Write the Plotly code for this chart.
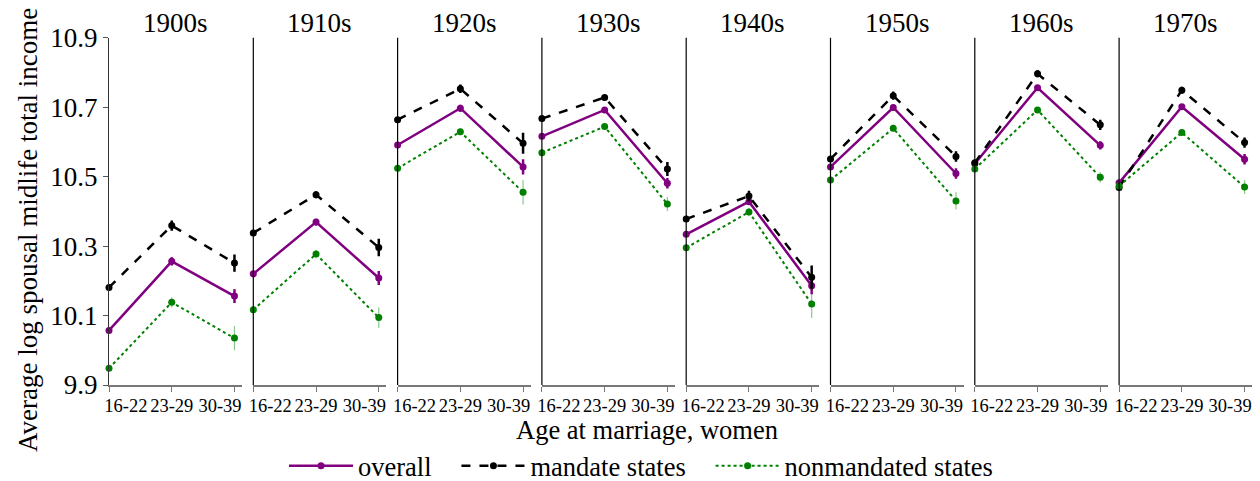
import plotly.graph_objects as go

decades = ["1900s", "1910s", "1920s", "1930s", "1940s", "1950s", "1960s", "1970s"]
ages = ["16-22", "23-29", "30-39"]

overall = [
    [10.057, 10.256, 10.156],
    [10.220, 10.369, 10.208],
    [10.591, 10.697, 10.528],
    [10.616, 10.692, 10.481],
    [10.334, 10.428, 10.186],
    [10.528, 10.699, 10.509],
    [10.537, 10.756, 10.590],
    [10.482, 10.701, 10.550],
]
mandate = [
    [10.181, 10.359, 10.251],
    [10.338, 10.448, 10.296],
    [10.664, 10.753, 10.596],
    [10.667, 10.728, 10.522],
    [10.378, 10.444, 10.210],
    [10.551, 10.733, 10.558],
    [10.540, 10.796, 10.649],
    [10.469, 10.749, 10.598],
]
nonmand = [
    [9.948, 10.138, 10.035],
    [10.117, 10.277, 10.094],
    [10.524, 10.629, 10.455],
    [10.569, 10.644, 10.421],
    [10.295, 10.398, 10.133],
    [10.490, 10.639, 10.430],
    [10.522, 10.692, 10.498],
    [10.473, 10.627, 10.470],
]
overall_err = [
    [0.005, 0.012, 0.020], [0.005, 0.010, 0.020], [0.004, 0.010, 0.022], [0.004, 0.008, 0.015],
    [0.004, 0.010, 0.025], [0.004, 0.008, 0.015], [0.004, 0.008, 0.012], [0.004, 0.008, 0.015],
]
mandate_err = [
    [0.005, 0.015, 0.025], [0.005, 0.010, 0.025], [0.004, 0.012, 0.030], [0.004, 0.006, 0.020],
    [0.005, 0.015, 0.034], [0.005, 0.012, 0.015], [0.005, 0.010, 0.015], [0.005, 0.010, 0.015],
]
nonmand_err = [
    [0.005, 0.015, 0.035], [0.005, 0.012, 0.030], [0.004, 0.010, 0.035], [0.004, 0.008, 0.020],
    [0.005, 0.012, 0.040], [0.005, 0.010, 0.025], [0.004, 0.008, 0.015], [0.004, 0.008, 0.020],
]
# where the category labels sit (end labels pulled inward, as in the original)
label_pos = [0.27, 1.0, 1.77]
legend_names = ["overall", "mandate states", "nonmandated states"]

FONT = "Liberation Serif"
OFF = 8  # page body margin
W, H = 1260 - OFF, 481 - OFF
PURPLE = "#800080"
GREEN = "#008000"


def fx(p):
    return (p - OFF) / W


def fy(p):
    return 1 - (p - OFF) / H


fig = go.Figure()

px0, pstep, pw = 109.0, 144.3, 133.0
ytop, ybot = 37.7, 385.0
XR = [0, 2.12]

series = [
    (legend_names[0], overall, overall_err, PURPLE, "solid", 2.5, "rgba(128,0,128,1)", 2.5),
    (legend_names[1], mandate, mandate_err, "black", "dash", 2.5, "rgba(0,0,0,1)", 2.5),
    (legend_names[2], nonmand, nonmand_err, GREEN, "dot", 2.0, "rgba(0,128,0,0.45)", 1.2),
]
pad = ["\u00a0\u00a0\u00a0", "\u00a0\u00a0\u00a0", ""]

annotations = []
n = len(decades)
for i, dec in enumerate(decades):
    xa = "x" if i == 0 else f"x{i+1}"
    for k, (name, vals, errs, col, dash, lw, ecol, ew) in enumerate(series):
        fig.add_trace(go.Scatter(
            x=[0, 1, 2], y=vals[i], name=name + pad[k], mode="lines+markers",
            line=dict(color=col, dash=dash, width=lw),
            marker=dict(color=col, size=7),
            error_y=dict(type="data", array=errs[i], color=ecol, thickness=ew, width=0),
            xaxis=xa, yaxis="y", showlegend=(i == 0), legendgroup=name,
            cliponaxis=False,
        ))
    # transparent companion trace so the label axis is drawn
    lxa = f"x{n + i + 1}"
    fig.add_trace(go.Scatter(
        x=[0, 1, 2], y=overall[i], mode="markers", marker=dict(opacity=0),
        xaxis=lxa, yaxis="y", showlegend=False, hoverinfo="skip",
    ))
    x0 = fx(px0 + pstep * i)
    x1 = fx(px0 + pstep * i + pw)
    key = "xaxis" if i == 0 else f"xaxis{i+1}"
    fig.layout[key] = dict(
        domain=[x0, x1], range=XR, anchor="y", automargin=False,
        tickmode="array", tickvals=[0, 1, 2], showticklabels=False,
        ticks="outside", ticklen=5, tickcolor="#777777", tickwidth=1,
        showline=True, linecolor="#777777", linewidth=1.5,
        showgrid=False, zeroline=False,
    )
    lkey = f"xaxis{n + i + 1}"
    fig.layout[lkey] = dict(
        domain=[x0, x1], range=XR, anchor="y", overlaying=xa, automargin=False,
        tickmode="array", tickvals=label_pos, ticktext=ages, tickangle=0,
        ticks="outside", ticklen=4, tickcolor="rgba(0,0,0,0)",
        showline=False, showgrid=False, zeroline=False,
        tickfont=dict(family=FONT, size=18.5, color="black"),
    )
    annotations.append(dict(
        text=dec, x=(x0 + x1) / 2, y=fy(23), xref="paper", yref="paper",
        showarrow=False, font=dict(family=FONT, size=27, color="black"),
        xanchor="center", yanchor="middle",
    ))
    if i > 0:
        fig.add_shape(type="line", xref="paper", yref="paper",
                      x0=x0, x1=x0, y0=fy(ybot), y1=fy(ytop),
                      line=dict(color="black", width=1.2))

fig.layout["yaxis"] = dict(
    domain=[fy(ybot), fy(ytop)], range=[9.9, 10.9], anchor="x", automargin=False,
    tickvals=[9.9, 10.1, 10.3, 10.5, 10.7, 10.9],
    ticktext=["9.9", "10.1", "10.3", "10.5", "10.7", "10.9"],
    ticks="outside", ticklen=5, tickcolor="#555555",
    showline=True, linecolor="#333333", linewidth=1.2,
    showgrid=False, zeroline=False,
    tickfont=dict(family=FONT, size=27, color="black"),
)

annotations.append(dict(
    text="Average log spousal midlife total income", x=fx(28), y=fy(230),
    xref="paper", yref="paper", showarrow=False, textangle=-90,
    font=dict(family=FONT, size=27, color="black"), xanchor="center", yanchor="middle",
))
annotations.append(dict(
    text="Age at marriage, women", x=fx(647), y=fy(430),
    xref="paper", yref="paper", showarrow=False,
    font=dict(family=FONT, size=26.5, color="black"), xanchor="center", yanchor="middle",
))

fig.update_layout(
    width=W, height=H, margin=dict(l=0, r=0, t=0, b=0, autoexpand=False),
    plot_bgcolor="white", paper_bgcolor="white",
    annotations=annotations,
    legend=dict(orientation="h", x=fx(641), xanchor="center", y=fy(466), yanchor="middle",
                font=dict(family=FONT, size=26.5, color="black"), itemwidth=64,
                bgcolor="rgba(0,0,0,0)", tracegroupgap=0),
    font=dict(family=FONT),
)

fig.write_html("out.html")
